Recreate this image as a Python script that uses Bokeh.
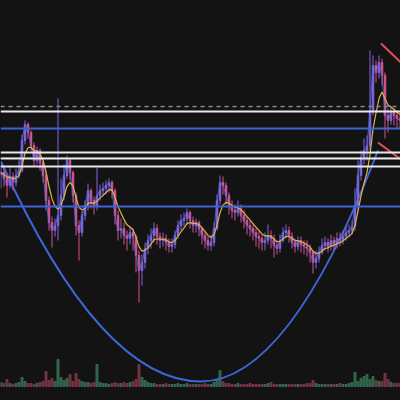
import pandas as pd
from bokeh.plotting import figure
from bokeh.models import Range1d, ColumnDataSource, Span
from bokeh.embed import file_html
from bokeh.resources import INLINE

# ---- data (price units, bar index) ----
closes = [228,222,215,224,218,225,230,260,276,268,
          255,240,250,238,225,200,178,170,175,185,
          205,225,240,228,205,175,168,185,195,210,
          200,195,205,210,212,215,218,210,185,170,
          172,165,162,168,164,145,130,138,152,160,
          165,172,164,160,162,158,154,156,165,175,
          180,182,188,180,175,178,172,165,160,155,
          158,172,200,218,215,205,195,190,188,192,
          185,180,175,172,168,164,162,158,160,165,
          162,155,152,160,168,170,164,158,154,160,
          156,154,152,148,138,142,148,155,158,154,
          160,156,162,160,164,168,170,174,195,225,
          242,250,255,290,335,328,338,325,285,280,
          288,285,282,280]
highs = [236,232,226,234,228,232,240,266,280,278,
         270,258,254,252,240,228,204,184,182,302,
         222,236,245,242,230,208,180,190,200,217,
         212,204,233,216,218,220,222,220,212,190,
         182,178,170,174,172,166,150,146,158,166,
         172,178,176,168,168,166,162,162,170,180,
         186,188,192,190,184,182,180,174,168,164,
         166,178,206,225,224,218,208,200,196,200,
         196,190,184,180,176,172,170,166,168,176,
         170,166,160,166,173,176,174,168,162,164,
         164,160,160,156,150,150,154,162,164,162,
         166,164,168,168,170,174,176,180,212,240,
         250,262,265,350,345,340,345,342,328,292,
         294,292,290,288]
lows = [212,214,203,212,210,214,222,228,256,262,
        250,234,236,230,218,190,170,153,164,160,
        180,200,222,220,198,165,140,164,180,190,
        192,186,190,200,204,206,208,202,176,160,
        162,156,150,156,150,128,98,115,132,146,
        152,158,156,152,154,150,148,148,152,162,
        170,174,176,172,168,168,164,156,152,150,
        150,154,170,196,206,196,186,182,180,184,
        178,172,166,164,160,154,152,150,150,156,
        152,143,146,148,158,162,158,152,148,150,
        148,146,144,138,127,132,138,146,150,148,
        150,150,152,154,156,160,164,166,170,190,
        220,236,240,250,285,318,322,315,262,268,
        276,275,272,272]
first_open = 226
volumes = [4,3,7,3,2,3,4,9,5,3,
           3,2,3,4,5,15,6,8,5,27,
           9,6,8,12,5,13,7,5,4,4,
           3,4,22,4,3,3,2,3,4,3,
           3,4,3,4,5,7,22,9,6,4,
           3,3,2,2,2,3,2,2,2,3,
           2,2,3,2,2,2,2,2,3,2,
           2,4,6,16,5,3,3,2,2,3,
           2,2,2,3,2,2,2,2,2,3,
           4,2,2,2,2,2,2,2,2,2,
           2,2,3,3,6,3,2,2,2,2,
           2,2,2,3,2,2,3,4,14,5,
           8,10,12,7,10,6,5,5,13,7,
           4,3,3,3]

# horizontal levels
white_levels = [289, 248, 242, 234]
blue_levels = [272, 194]
dashed_level = [294]
dotted_level = [243]

# cup curve: two quadratic segments (start, control, end) in bar index / price
cup_x0 = [0, 66.67]
cup_y0 = [239, 19]
cup_cx = [33.33, 96.0]
cup_cy = [19, 19]
cup_x1 = [66.67, 125.67]
cup_y1 = [19, 250]

# red trend lines
trend_x0 = [126.67, 125.67]
trend_y0 = [357, 258]
trend_x1 = [133.33, 133.33]
trend_y1 = [338, 241]

# ---- derived ----
n = len(closes)
idx = list(range(n))
opens = [first_open] + closes[:-1]
up = [c >= o for o, c in zip(opens, closes)]
UPC, DNC = "#8464dc", "#d8538e"
cols = [UPC if u else DNC for u in up]
vcols = ["#3b7a5d" if u else "#8a3c4b" for u in up]
ema = pd.Series(closes).ewm(span=6, adjust=False).mean().tolist()

src = ColumnDataSource(dict(
    x=idx, o=opens, c=closes, h=highs, l=lows,
    top=[max(a, b) for a, b in zip(opens, closes)],
    bot=[min(a, b) for a, b in zip(opens, closes)],
    col=cols, vcol=vcols, vol=volumes, ema=ema))

BG = "#131313"
p = figure(width=400, height=400, output_backend="svg", toolbar_location=None,
           x_range=Range1d(-1/6, 400/3 - 1/6), y_range=Range1d(0, 400),
           min_border=0, background_fill_color=BG, border_fill_color=BG)
p.outline_line_color = None
p.xaxis.visible = False
p.yaxis.visible = False
p.xgrid.visible = False
p.ygrid.visible = False

p.extra_y_ranges = {"vol": Range1d(-14, 386)}

# volume
p.vbar(x="x", top="vol", bottom=0, width=0.7, color="vcol", alpha=0.7,
       source=src, y_range_name="vol")

# horizontal levels
for lv in dashed_level:
    p.add_layout(Span(location=lv, dimension="width", line_color="#8a8a8a",
                      line_width=1.5, line_dash="4 4"))
for lv in dotted_level:
    p.add_layout(Span(location=lv, dimension="width", line_color="#777777",
                      line_width=1, line_dash="1 2"))
for lv in white_levels:
    p.add_layout(Span(location=lv, dimension="width", line_color="#e8e8e8",
                      line_width=2))
for lv in blue_levels:
    p.add_layout(Span(location=lv, dimension="width", line_color="#3d63d6",
                      line_width=2))

# cup curve
p.quadratic(x0=cup_x0, y0=cup_y0, x1=cup_x1, y1=cup_y1, cx=cup_cx, cy=cup_cy,
            line_color="#3d66d8", line_width=2)

# candles
p.segment(x0="x", y0="l", x1="x", y1="h", color="col", line_width=1, source=src)
p.vbar(x="x", top="top", bottom="bot", width=0.5, color="col", source=src)

# fast line (close) and slow EMA
p.line("x", "c", source=src, line_color="#4a6fe8", line_width=1, alpha=0.8)
p.line("x", "ema", source=src, line_color="#d8b64a", line_width=1.2)

# trend lines
p.segment(x0=trend_x0, y0=trend_y0, x1=trend_x1, y1=trend_y1,
          line_color="#e0505a", line_width=2)

html = file_html(p, INLINE)
html = html.replace("<head>", "<head><style>html,body{margin:0;padding:0;background:#131313;}</style>", 1)
open("out.html", "w").write(html)
